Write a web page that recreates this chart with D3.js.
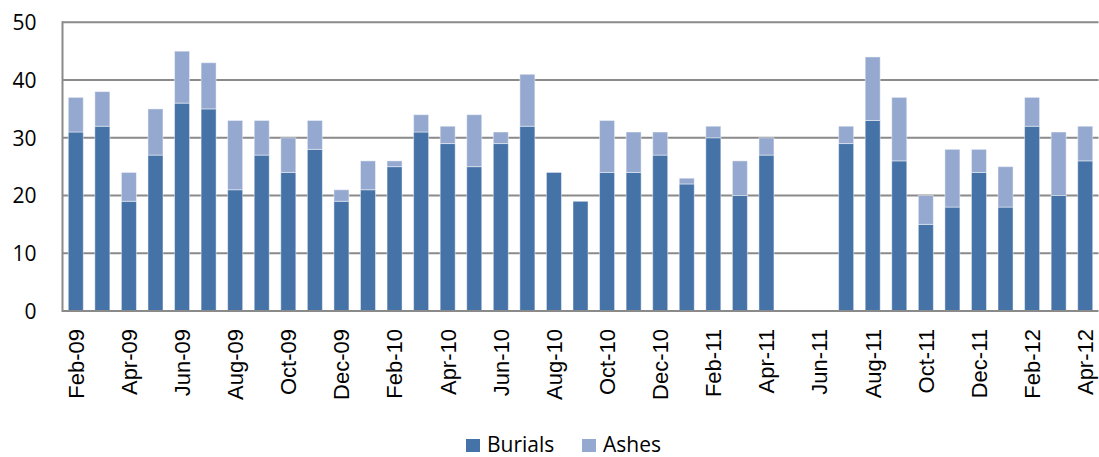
<!DOCTYPE html>
<html>
<head>
<meta charset="utf-8">
<script src="https://cdn.jsdelivr.net/npm/d3@7/dist/d3.min.js"></script>
<style>
  body { margin: 0; background: #fff; }
  svg { display: block; }
</style>
</head>
<body>
<div id="chart"></div>
<script>
// monthly figures, Feb-09 .. Apr-12
var months = ['Feb-09','Mar-09','Apr-09','May-09','Jun-09','Jul-09','Aug-09','Sep-09','Oct-09','Nov-09','Dec-09',
  'Jan-10','Feb-10','Mar-10','Apr-10','May-10','Jun-10','Jul-10','Aug-10','Sep-10','Oct-10','Nov-10','Dec-10',
  'Jan-11','Feb-11','Mar-11','Apr-11','May-11','Jun-11','Jul-11','Aug-11','Sep-11','Oct-11','Nov-11','Dec-11',
  'Jan-12','Feb-12','Mar-12','Apr-12'];
var burials = [31,32,19,27,36,35,21,27,24,28,19, 21,25,31,29,25,29,32,24,19,24,24,27, 22,30,20,27,0,0,29,33,26,15,18,24, 18,32,20,26];
var ashes   = [6,6,5,8,9,8,12,6,6,5,2, 5,1,3,3,9,2,9,0,0,9,7,4, 1,2,6,3,0,0,3,11,11,5,10,4, 7,5,11,6];
var seriesNames = ['Burials', 'Ashes'];
var yTicks = [0, 10, 20, 30, 40, 50];

var width = 1099, height = 457;
var plotLeft = 62.5, plotRight = 1098.5, plotTop = 22.3, plotBottom = 311;
var colors = {Burials: '#4572a7', Ashes: '#95a9d0'};

var svg = d3.select('#chart').append('svg').attr('width', width).attr('height', height);

var x = d3.scaleBand().domain(months).range([plotLeft, plotRight]).paddingInner(0.435).paddingOuter(0.2175);
var y = d3.scaleLinear().domain([0, 50]).range([plotBottom, plotTop]);

// gridlines
svg.append('g').selectAll('line').data(yTicks.filter(function(d){ return d > 0; })).enter().append('line')
  .attr('x1', plotLeft).attr('x2', plotRight)
  .attr('y1', function(d){ return y(d); }).attr('y2', function(d){ return y(d); })
  .attr('stroke', '#8a8a8a').attr('stroke-width', 2);

var rows = months.map(function(m, i){ return {month: m, Burials: burials[i], Ashes: ashes[i]}; });
var stacked = d3.stack().keys(seriesNames)(rows);

svg.append('g').selectAll('g').data(stacked).enter().append('g')
  .attr('fill', function(d){ return colors[d.key]; })
  .selectAll('rect').data(function(d){ return d.filter(function(s){ return s[1] > s[0]; }); }).enter()
  .append('rect')
  .attr('x', function(d){ return x(d.data.month); })
  .attr('width', x.bandwidth())
  .attr('y', function(d){ return y(d[1]); })
  .attr('height', function(d){ return y(d[0]) - y(d[1]); })
  .attr('stroke', 'rgba(255,255,255,0.45)').attr('stroke-width', 1);

// axes
var yAxis = svg.append('g').attr('transform', 'translate(' + plotLeft + ',0)')
  .call(d3.axisLeft(y).tickValues(yTicks).tickSize(0).tickPadding(0));
yAxis.select('.domain').remove();
yAxis.selectAll('text').attr('x', -26).attr('dy', '0.35em')
  .style('font-family', '"Open Sans", sans-serif').style('font-size', '21px').attr('fill', '#000');

svg.append('line').attr('x1', plotLeft).attr('x2', plotLeft).attr('y1', plotTop - 1).attr('y2', plotBottom + 1)
  .attr('stroke', '#8a8a8a').attr('stroke-width', 2);
svg.append('line').attr('x1', plotLeft).attr('x2', plotRight).attr('y1', plotBottom).attr('y2', plotBottom)
  .attr('stroke', '#8a8a8a').attr('stroke-width', 2);

var xAxis = svg.append('g').attr('transform', 'translate(0,' + plotBottom + ')')
  .call(d3.axisBottom(x).tickValues(months.filter(function(d, i){ return i % 2 === 0; })).tickSize(0));
xAxis.select('.domain').remove();
xAxis.selectAll('text')
  .attr('transform', 'rotate(-90)')
  .attr('x', -18).attr('y', 0).attr('dy', '0.36em')
  .style('text-anchor', 'end')
  .style('font-family', '"Liberation Sans", Arial, sans-serif').style('font-size', '22px').attr('fill', '#000');

// legend
var legend = svg.append('g');
var lx = [466, 582];
seriesNames.forEach(function(name, i){
  legend.append('rect').attr('x', lx[i]).attr('y', 439).attr('width', 14).attr('height', 13).attr('fill', colors[name]);
  legend.append('text').attr('x', lx[i] + 21).attr('y', 452).text(name)
    .style('font-family', '"Open Sans", sans-serif').style('font-size', '21px').attr('fill', '#000');
});
</script>
</body>
</html>
